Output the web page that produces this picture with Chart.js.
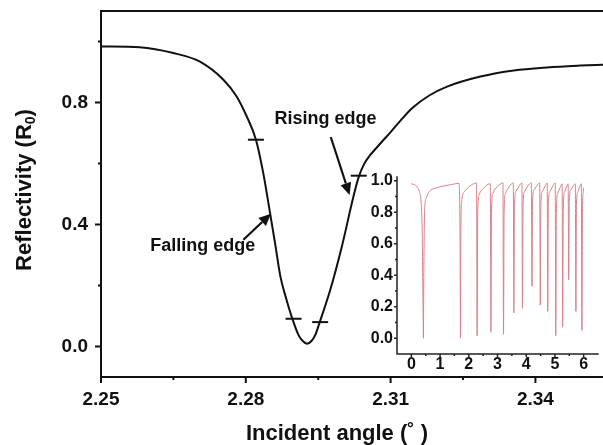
<!DOCTYPE html>
<html>
<head>
<meta charset="utf-8">
<script src="https://cdn.jsdelivr.net/npm/chart.js@4.4.1/dist/chart.umd.min.js"></script>
<style>
  html, body { margin: 0; padding: 0; background: #fff; }
  #wrap { position: relative; width: 603px; height: 445px; }
  #main { position: absolute; left: 0; top: 0; }
  #inset { position: absolute; left: 355px; top: 168px; }
</style>
</head>
<body>
<div id="wrap">
  <canvas id="main" width="603" height="445"></canvas>
  <canvas id="inset" width="248" height="210"></canvas>
</div>
<script>
// main resonance curve
const angle = [2.2500, 2.2580, 2.2650, 2.2705, 2.2754, 2.2781, 2.2802, 2.2821, 2.2836, 2.2850,
  2.2861, 2.2871, 2.2884, 2.2895, 2.2909, 2.2918, 2.2927, 2.2936, 2.2944, 2.2954,
  2.2975, 2.2999, 2.3023, 2.3034, 2.3045, 2.3058, 2.3070, 2.3080, 2.3100, 2.3120, 2.3145,
  2.3180, 2.3217, 2.3286, 2.3355, 2.3424, 2.3493, 2.3541];
const reflectivity = [0.984, 0.981, 0.962, 0.934, 0.874, 0.820, 0.754, 0.678, 0.570, 0.440,
  0.335, 0.235, 0.155, 0.098, 0.038, 0.018, 0.009, 0.018, 0.038, 0.084,
  0.186, 0.328, 0.492, 0.556, 0.598, 0.628, 0.650, 0.668, 0.703, 0.740, 0.782,
  0.823, 0.852, 0.885, 0.905, 0.915, 0.921, 0.924];

// little dash marks on the curve
const markAngle = [2.2821, 2.2899, 2.2954, 2.3034];
const markReflect = [0.678, 0.091, 0.080, 0.560];

const xTicks = [2.25, 2.28, 2.31, 2.34];
const xMinor = [2.265, 2.295, 2.325];
const yTicks = [0.0, 0.4, 0.8];
const yMinor = [0.2, 0.6, 1.0];

// inset: reflectivity over a wide angle range
const insetPos = [0.00, 0.10, 0.20, 0.28, 0.34, 0.38, 0.41, 0.42, 0.43, 0.46, 0.52, 0.62, 0.80, 1.10, 1.40,
  1.66, 1.70, 1.71, 1.72, 1.76, 1.85, 2.00,
  2.27, 2.29, 2.31, 2.36, 2.50,
  2.75, 2.77, 2.79, 2.84, 2.98,
  3.19, 3.21, 3.23, 3.28, 3.40,
  3.55, 3.57, 3.59, 3.64, 3.75,
  3.85, 3.87, 3.89, 3.94, 4.05,
  4.18, 4.20, 4.22, 4.27, 4.36,
  4.47, 4.49, 4.51, 4.56, 4.64,
  4.73, 4.75, 4.77, 4.82, 4.91,
  5.01, 5.03, 5.05, 5.10, 5.18,
  5.25, 5.27, 5.29, 5.34, 5.40,
  5.46, 5.48, 5.50, 5.55, 5.63,
  5.71, 5.73, 5.75, 5.80, 5.86,
  5.92, 5.94, 5.96, 5.99, 6.00];
const insetVal = [0.980, 0.975, 0.960, 0.930, 0.860, 0.650, 0.150, 0.000, 0.300, 0.800, 0.890, 0.930, 0.950, 0.965, 0.975,
  0.983, 0.500, 0.000, 0.600, 0.880, 0.930, 0.960,
  0.985, 0.015, 0.780, 0.910, 0.950,
  0.980, 0.040, 0.800, 0.920, 0.960,
  0.985, 0.025, 0.800, 0.920, 0.960,
  0.985, 0.160, 0.840, 0.930, 0.965,
  0.985, 0.190, 0.850, 0.930, 0.965,
  0.985, 0.330, 0.870, 0.940, 0.965,
  0.985, 0.210, 0.850, 0.930, 0.960,
  0.985, 0.170, 0.850, 0.930, 0.960,
  0.985, 0.015, 0.800, 0.920, 0.955,
  0.980, 0.070, 0.820, 0.930, 0.960,
  0.980, 0.370, 0.870, 0.940, 0.965,
  0.980, 0.170, 0.850, 0.930, 0.960,
  0.980, 0.050, 0.800, 0.930, 0.955];

const insetXTicks = [0, 1, 2, 3, 4, 5, 6];
const insetXMinor = [0.5, 1.5, 2.5, 3.5, 4.5, 5.5];
const insetYTicks = [0.0, 0.2, 0.4, 0.6, 0.8, 1.0];
const insetYMinor = [0.1, 0.3, 0.5, 0.7, 0.9];

const FONT = '"Liberation Sans", Arial, Helvetica, sans-serif';

// annotation text + arrows, in data units
const notes = [
  { text: 'Rising edge', x: 2.2965, y: 0.746, from: [2.2976, 0.687], to: [2.3015, 0.497] },
  { text: 'Falling edge', x: 2.2711, y: 0.330, from: [2.2795, 0.350], to: [2.2852, 0.435] }
];

// axis lines, outward tick marks and tick labels, placed with the chart's scales
function axesPlugin(cfg) {
  return {
    id: 'axesFrame',
    afterDraw(chart) {
      const { ctx, chartArea: a, scales: { x, y } } = chart;
      ctx.save();
      ctx.strokeStyle = cfg.color;
      ctx.lineWidth = cfg.lw;
      ctx.lineCap = 'square';
      ctx.beginPath();
      ctx.moveTo(a.left, a.top);
      ctx.lineTo(a.left, a.bottom);
      ctx.lineTo(a.right, a.bottom);
      if (cfg.top) {
        ctx.moveTo(a.left, a.top);
        ctx.lineTo(a.right, a.top);
      }
      ctx.stroke();
      ctx.lineCap = 'butt';
      ctx.beginPath();
      cfg.xMaj.forEach(v => { const p = x.getPixelForValue(v); ctx.moveTo(p, a.bottom); ctx.lineTo(p, a.bottom + cfg.maj); });
      cfg.xMin.forEach(v => { const p = x.getPixelForValue(v); ctx.moveTo(p, a.bottom); ctx.lineTo(p, a.bottom + cfg.min); });
      cfg.yMaj.forEach(v => { const p = y.getPixelForValue(v); ctx.moveTo(a.left, p); ctx.lineTo(a.left - cfg.maj, p); });
      cfg.yMin.forEach(v => { const p = y.getPixelForValue(v); ctx.moveTo(a.left, p); ctx.lineTo(a.left - cfg.min, p); });
      ctx.stroke();

      ctx.fillStyle = '#111';
      ctx.font = 'bold ' + cfg.fontSize + 'px ' + FONT;
      ctx.textBaseline = 'middle';
      ctx.textAlign = 'center';
      cfg.xMaj.forEach(v => ctx.fillText(cfg.xFmt(v), x.getPixelForValue(v), a.bottom + cfg.xOff));
      ctx.textAlign = 'right';
      cfg.yMaj.forEach(v => ctx.fillText(cfg.yFmt(v), a.left - cfg.yOff, y.getPixelForValue(v)));
      ctx.restore();
    }
  };
}

const titlesPlugin = {
  id: 'titles',
  afterDraw(chart) {
    const { ctx } = chart;
    ctx.save();
    ctx.fillStyle = '#111';
    ctx.textBaseline = 'middle';
    ctx.font = 'bold 22px ' + FONT;
    ctx.textAlign = 'center';
    ctx.fillText('Incident angle (˚ )', 337, 434);

    // y title, with a subscript 0
    const a = 'Reflectivity (R', sub = '0', b = ')';
    ctx.translate(25, 190);
    ctx.rotate(-Math.PI / 2);
    ctx.textAlign = 'left';
    const wa = ctx.measureText(a).width, wb = ctx.measureText(b).width;
    ctx.font = 'bold 14px ' + FONT;
    const ws = ctx.measureText(sub).width;
    let sx = -(wa + ws + wb) / 2;
    ctx.font = 'bold 22px ' + FONT;
    ctx.fillText(a, sx, 0);
    ctx.font = 'bold 14px ' + FONT;
    ctx.fillText(sub, sx + wa, 6);
    ctx.font = 'bold 22px ' + FONT;
    ctx.fillText(b, sx + wa + ws, 0);
    ctx.restore();
  }
};

const notesPlugin = {
  id: 'notes',
  afterDatasetsDraw(chart) {
    const { ctx, scales: { x, y } } = chart;
    ctx.save();
    ctx.fillStyle = '#111';
    ctx.strokeStyle = '#111';
    ctx.font = 'bold 18px ' + FONT;
    ctx.textAlign = 'center';
    ctx.textBaseline = 'middle';
    notes.forEach(n => {
      ctx.fillText(n.text, x.getPixelForValue(n.x), y.getPixelForValue(n.y));
      const x0 = x.getPixelForValue(n.from[0]), y0 = y.getPixelForValue(n.from[1]);
      const x1 = x.getPixelForValue(n.to[0]), y1 = y.getPixelForValue(n.to[1]);
      const ang = Math.atan2(y1 - y0, x1 - x0);
      const hl = 12, hw = 5.5;
      const bx = x1 - hl * Math.cos(ang), by = y1 - hl * Math.sin(ang);
      ctx.lineWidth = 2.2;
      ctx.beginPath();
      ctx.moveTo(x0, y0);
      ctx.lineTo(bx, by);
      ctx.stroke();
      ctx.beginPath();
      ctx.moveTo(x1, y1);
      ctx.lineTo(bx + hw * Math.sin(ang), by - hw * Math.cos(ang));
      ctx.lineTo(bx - hw * Math.sin(ang), by + hw * Math.cos(ang));
      ctx.closePath();
      ctx.fill();
    });
    ctx.restore();
  }
};

Chart.defaults.font.family = FONT;
Chart.defaults.color = '#111';

// scale options shared by both charts: no grid, labels drawn by axesPlugin
function plainScale(min, max, fit) {
  return {
    type: 'linear',
    min: min,
    max: max,
    grid: { display: false, drawTicks: false },
    border: { display: false },
    ticks: { display: false },
    afterFit: fit
  };
}

new Chart(document.getElementById('main'), {
  type: 'line',
  data: {
    datasets: [
      {
        data: angle.map((a, i) => ({ x: a, y: reflectivity[i] })),
        borderColor: '#111',
        borderWidth: 2,
        pointRadius: 0,
        cubicInterpolationMode: 'monotone'
      },
      {
        data: markAngle.map((a, i) => ({ x: a, y: markReflect[i] })),
        showLine: false,
        pointStyle: 'line',
        pointRadius: 8,
        pointBorderWidth: 2,
        pointBorderColor: '#111'
      }
    ]
  },
  options: {
    responsive: false,
    animation: false,
    layout: { autoPadding: false, padding: { left: 0, right: 0, top: 11, bottom: 0 } },
    plugins: { legend: { display: false }, tooltip: { enabled: false } },
    scales: {
      x: plainScale(2.25, 2.354, s => { s.height = 68; }),
      y: plainScale(-0.1, 1.1, s => { s.width = 101; })
    }
  },
  plugins: [
    axesPlugin({
      color: '#111', lw: 2, top: true, maj: 6, min: 3,
      xMaj: xTicks, xMin: xMinor, yMaj: yTicks, yMin: yMinor,
      fontSize: 19, xOff: 23, yOff: 13,
      xFmt: v => v.toFixed(2), yFmt: v => v.toFixed(1)
    }),
    titlesPlugin,
    notesPlugin
  ]
});

new Chart(document.getElementById('inset'), {
  type: 'line',
  data: {
    datasets: [{
      data: insetPos.map((p, i) => ({ x: p, y: insetVal[i] })),
      borderColor: 'rgb(216, 128, 136)',
      borderWidth: 1,
      pointRadius: 0,
      cubicInterpolationMode: 'monotone'
    }]
  },
  options: {
    responsive: false,
    animation: false,
    layout: { autoPadding: false, padding: { left: 0, right: 5, top: 9, bottom: 0 } },
    plugins: { legend: { display: false }, tooltip: { enabled: false } },
    scales: {
      x: plainScale(-0.5, 6.5, s => { s.height = 24; }),
      y: plainScale(-0.1, 1.023, s => { s.width = 42; })
    }
  },
  plugins: [
    axesPlugin({
      color: '#222', lw: 1.5, top: false, maj: 3, min: 2,
      xMaj: insetXTicks, xMin: insetXMinor, yMaj: insetYTicks, yMin: insetYMinor,
      fontSize: 16, xOff: 11, yOff: 4,
      xFmt: v => String(v), yFmt: v => v.toFixed(1)
    })
  ]
});
</script>
</body>
</html>
